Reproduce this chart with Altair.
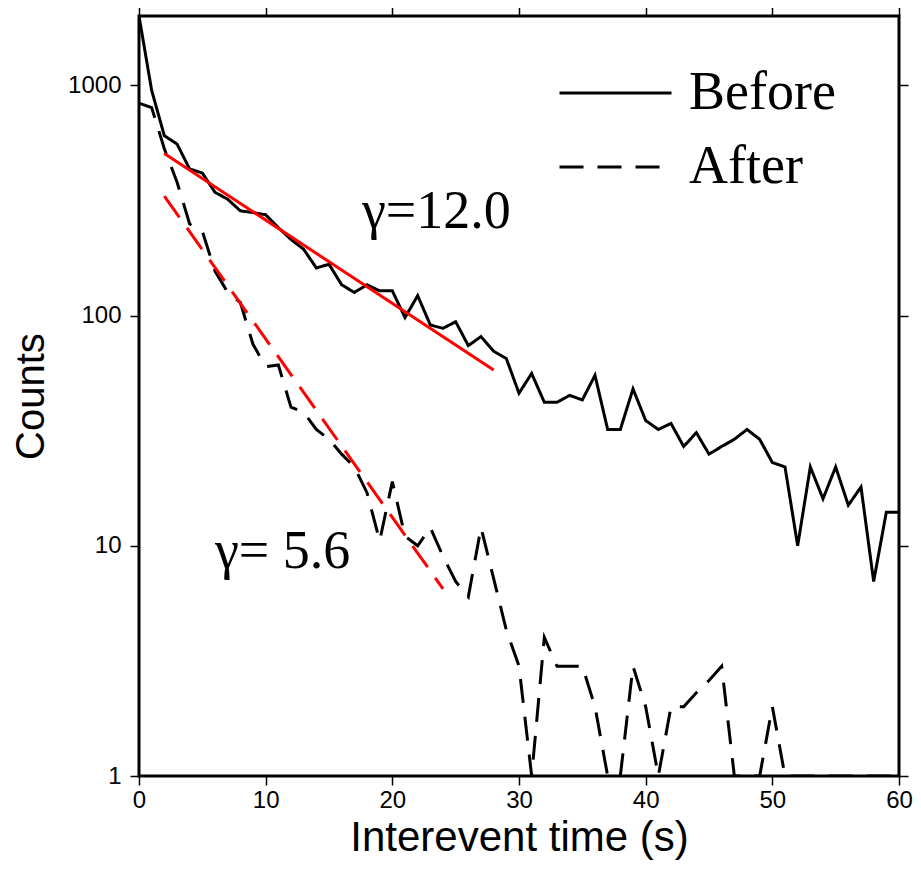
import altair as alt
import pandas as pd

# ---------------- data ----------------
t = list(range(61))
before = [2000, 950, 604, 556, 433, 416, 343, 320, 285, 280,
          274, 241, 214, 194, 161, 167, 136, 126, 136, 128,
          128, 98, 122, 91, 88, 94, 74, 81, 70, 65,
          46, 56, 42, 42, 45, 43, 55, 32, 32, 48,
          35, 32, 34, 27, 31, 25, 27, 29, 32, 29,
          23, 22, 10, 22, 16, 22, 15, 18, 7, 14, 14]
after = [836, 800, 530, 380, 250, 232, 156, 126, 114, 75,
         60, 61, 40, 38, 32, 29, 25, 22, 17, 10.5,
         19, 11, 10, 12, 9, 7, 6, 12, 7.2, 4.3,
         3, 1, 4, 3, 3, 3, 2, 1, 1, 3,
         2, 1, 2, 2, 2.3, 2.6, 3, 1, 1, 1,
         2, 1, 1, 1, 1, 1, 1, 1, 1, 1, 1]
series_names = ["Before", "After"]

fit_names = ["before", "after"]
fit_before_t = [2, 28]
fit_before_counts = [506, 58]
fit_after_t = [2, 24]
fit_after_counts = [330, 6.5]

gamma_labels = ["\u03b3=12.0", "\u03b3= 5.6"]
gamma_t = [17.6, 6.0]
gamma_counts = [241, 8.0]

x_ticks = [0, 10, 20, 30, 40, 50, 60]
y_ticks = [1, 10, 100, 1000]

# ---------------- tables ----------------
df = pd.DataFrame({
    "t": t + t,
    "count": before + after,
    "series": [series_names[0]] * len(t) + [series_names[1]] * len(t),
})
fit_df = pd.DataFrame({
    "t": fit_before_t + fit_after_t,
    "count": fit_before_counts + fit_after_counts,
    "fit": [fit_names[0]] * 2 + [fit_names[1]] * 2,
})
txt_df = pd.DataFrame({"t": gamma_t, "count": gamma_counts, "label": gamma_labels})

SANS = "Liberation Sans"
SERIF = "Liberation Serif"

xscale = alt.Scale(domain=[0, 60], nice=False, zero=False)
yscale = alt.Scale(type="log", domain=[1, 2000], nice=False)

x_axis = alt.Axis(values=x_ticks, orient="bottom", tickSize=9, tickWidth=1.5,
                  tickColor="black", domain=False, grid=False, labelFlush=False,
                  labelFont=SANS, labelFontSize=24, labelColor="black", labelPadding=3,
                  title="Interevent time (s)", titleFont=SANS, titleFontSize=42,
                  titleFontWeight="normal", titleColor="black", titlePadding=5)
y_axis = alt.Axis(values=y_ticks, orient="left", tickSize=9, tickWidth=1.5,
                  tickColor="black", domain=False, grid=False, labelFlush=False,
                  labelFont=SANS, labelFontSize=24, labelColor="black", labelPadding=9,
                  format="d",
                  title="Counts", titleFont=SANS, titleFontSize=40,
                  titleFontWeight="normal", titleColor="black", titlePadding=16)

x_axis_top = alt.Axis(values=x_ticks, orient="top", tickSize=9, tickWidth=1.5,
                      tickColor="black", domain=False, grid=False, labels=False, title=None)
y_axis_right = alt.Axis(values=y_ticks, orient="right", tickSize=9, tickWidth=1.5,
                        tickColor="black", domain=False, grid=False, labels=False, title=None)

lines = alt.Chart(df).mark_line(color="black", strokeWidth=3, clip=True).encode(
    x=alt.X("t:Q", scale=xscale, axis=x_axis),
    y=alt.Y("count:Q", scale=yscale, axis=y_axis),
    strokeDash=alt.StrokeDash(
        "series:N",
        scale=alt.Scale(domain=series_names, range=[[1, 0], [24, 14]]),
        sort=series_names,
        legend=alt.Legend(title=None, orient="none", legendX=419, legendY=47,
                          symbolType="stroke", symbolSize=12544, symbolStrokeWidth=3,
                          symbolStrokeColor="black", labelFont=SERIF, labelFontSize=54,
                          labelColor="black", labelOffset=16, clipHeight=60, rowPadding=14,
                          padding=0, symbolOffset=0),
    ),
)

fit_solid = alt.Chart(fit_df).transform_filter(alt.datum.fit == fit_names[0]).mark_line(
    color="#ff0000", strokeWidth=3, clip=True
).encode(x=alt.X("t:Q", scale=xscale, axis=None), y=alt.Y("count:Q", scale=yscale, axis=None))

fit_dash = alt.Chart(fit_df).transform_filter(alt.datum.fit == fit_names[1]).mark_line(
    color="#ff0000", strokeWidth=3, strokeDash=[26, 13], clip=True
).encode(x=alt.X("t:Q", scale=xscale, axis=None), y=alt.Y("count:Q", scale=yscale, axis=None))

texts = alt.Chart(txt_df).mark_text(font=SERIF, fontSize=54, align="left",
                                     baseline="alphabetic", color="black").encode(
    x=alt.X("t:Q", scale=xscale, axis=None), y=alt.Y("count:Q", scale=yscale, axis=None),
    text="label:N")

frame_axes = alt.Chart(df).mark_point(opacity=0).encode(
    x=alt.X("t:Q", scale=xscale, axis=x_axis_top),
    y=alt.Y("count:Q", scale=yscale, axis=y_axis_right),
)

chart = alt.layer(lines, fit_solid, fit_dash, texts, frame_axes).resolve_axis(
    x="independent", y="independent"
).properties(
    width=760, height=760,
    padding={"left": 131, "top": 8, "right": 14, "bottom": 89},
    autosize=alt.AutoSizeParams(type="none"),
    background="white",
).configure_view(stroke="black", strokeWidth=3)

chart.save("out.html", embed_options={"renderer": "svg", "actions": False})
